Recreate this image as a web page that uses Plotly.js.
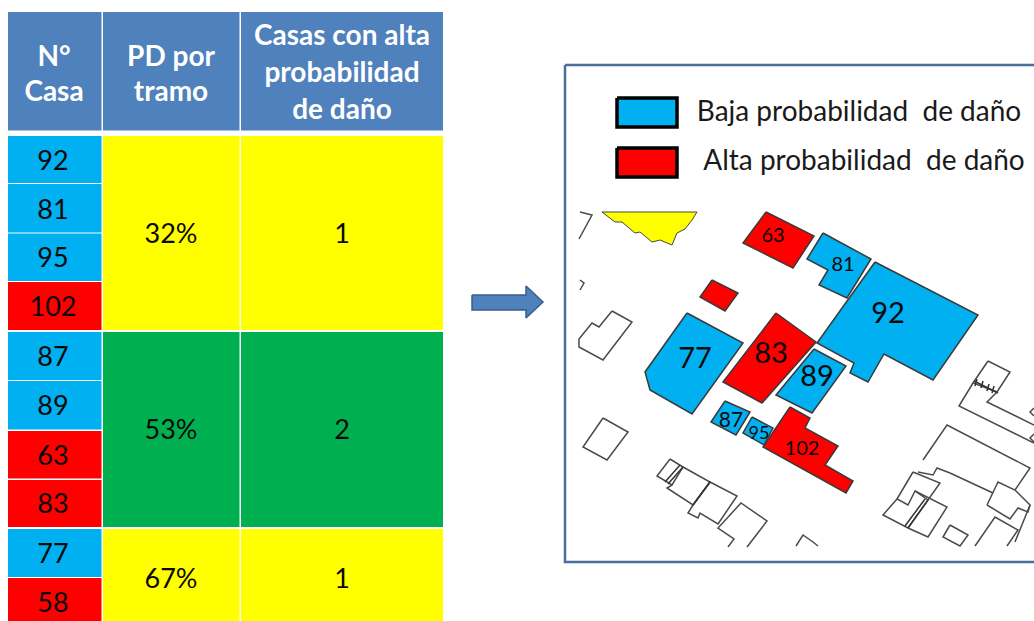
<!DOCTYPE html>
<html><head><meta charset="utf-8">
<script src="https://cdn.plot.ly/plotly-3.0.1.min.js"></script>
<style>html,body{margin:0;padding:0;background:#fff;overflow:hidden}</style></head>
<body><div id="chart" style="width:1034px;height:621px"></div>
<script>
// ---------- table values ----------
const headers = ["N°<br>Casa", "PD por<br>tramo", "Casas con alta<br>probabilidad<br>de daño"];
const caseNumbers = ["92","81","95","102","87","89","63","83","77","58"];
const caseRisk = ["baja","baja","baja","alta","baja","baja","alta","alta","baja","alta"];
const tramoPd = ["32%","53%","67%"];
const tramoCount = ["1","2","1"];
const tramoColor = ["#FFFF00","#00B050","#FFFF00"];
const legendLabels = ["Baja probabilidad  de daño","Alta probabilidad  de daño"];
// ---------- table layout (page pixels) ----------
const colX = [[8,101.5],[103,239.5],[241,443]];
const headerY = [12,130.5];
const rowY = [[136,183],[184,232.5],[233.5,281],[282,330],[332,380],[381,429.5],[431,478.5],[480,527],[529,577],[578,630]];
const tramoY = [[136,330],[332,527],[529,630]];
const tramoTextY = [236,432,581];
const caseTextY = [163,212,260,309,359,408,458,506,556,605];
// ---------- map geometry (page pixels) ----------
const riskColor = {baja:"#00B0F0", alta:"#FF0000"};
const blueHouses = [
 {n:"81",s:20,t:[843,266],p:[[823,233],[871,259],[847,298],[819,285],[828,270],[807,259]]},
 {n:"92",s:29,t:[888,316],p:[[875,262],[978,315],[933,380],[884,354],[868,382],[850,373],[854,363],[817,343]]},
 {n:"89",s:29,t:[817,379],p:[[814,349],[846,366],[812,413],[776,395]]},
 {n:"77",s:29,t:[695,361],p:[[687,313],[743,343],[692,414],[650,390],[645,372],[655,358]]},
 {n:"87",s:21,t:[731,422],p:[[725,401],[750,412],[736,435],[711,422]]},
 {n:"95",s:18,t:[759,434],p:[[752,417],[773,428],[764,445],[743,433]]}
];
const redHouses = [
 {n:"63",s:20,t:[773,237],p:[[766,212],[814,236],[793,268],[743,243]]},
 {n:"83",s:29,t:[771,356],p:[[776,313],[816,342],[762,403],[723,382]]},
 {n:"102",s:20,t:[802,450],p:[[790,407],[810,418],[805,428],[838,446],[825,465],[853,481],[846,493],[763,447]]},
 {n:"",s:0,t:[0,0],p:[[712,280],[738,293],[725,311],[700,297]]}
];
const yellowBlock = [[602,212],[615,222],[622,222],[635,233],[640,232],[652,242],[660,240],[672,245],[677,233],[685,229],[692,220],[697,212]];
const outlines = [
 [[580,212],[592,215],[579,239]],
 [[580,280],[584,283],[580,290]],
 [[612,311],[632,322],[603,360],[579,347],[579,339],[592,323],[599,327],[612,311]],
 [[603,418],[628,432],[607,460],[583,447],[603,418]],
 [[670,459],[683,467],[672,485],[657,476],[670,459]],
 [[683,467],[710,482],[693,505],[667,488],[672,485]],
 [[710,482],[737,496],[718,524],[700,513],[698,518],[688,513],[693,505],[710,482]],
 [[747,547],[767,521],[741,503],[718,528],[734,539],[728,547]],
 [[796,546],[803,535],[813,542],[818,546]],
 [[988,361],[1010,372],[997,392],[973,383],[988,361]],
 [[973,383],[959,406],[1034,443]],
 [[997,392],[987,402],[1034,425]],
 [[923,460],[947,425],[1030,468],[1015,490]],
 [[913,472],[940,483],[928,500],[915,491],[908,505],[897,499],[913,472]],
 [[950,473],[937,468],[933,475],[918,472]],
 [[950,473],[993,493]],
 [[897,499],[883,515],[908,528],[928,500]],
 [[915,491],[947,507],[928,537],[908,528]],
 [[950,525],[968,535],[960,546],[943,537],[950,525]],
 [[987,505],[998,482],[1015,490],[1030,505],[1028,512],[1018,508],[1010,519],[987,505]],
 [[975,546],[995,517],[1018,530],[1007,546]],
 [[1015,542],[1022,525],[1030,505]],
 [[1034,408],[1030,412],[1034,416]],
 [[1034,434],[1030,438],[1034,442]]
];
const hatches = [
 [[974,381],[998,393]],[[977,379],[975,386]],[[983,381],[981,388]],[[989,384],[987,391]],[[994,386],[992,393]],
 [[683,467],[668,484]],[[680,465],[665,482]],[[710,482],[693,505]],[[928,500],[908,528]],[[925,499],[905,526]]
];
const mapFrame = [[565,65],[1040,65],[1040,562],[565,562],[565,65]];
const arrow = [[472,295],[526,295],[526,286],[543,302],[526,318],[526,310],[472,310],[472,295]];
const legendBoxes = [[[617,98],[677,98],[677,127],[617,127],[617,98]],[[617,148],[677,148],[677,177],[617,177],[617,148]]];
const legendColors = ["#00B0F0","#FF0000"];
const legendText = [[859,114],[864,163]];

// ---------- helpers ----------
const traces = [];
const rect = (x,y)=>[[x[0],y[0]],[x[1],y[0]],[x[1],y[1]],[x[0],y[1]],[x[0],y[0]]];
function poly(pts, fill, lineColor, width){
  const closed = fill ? pts.concat([pts[0]]) : pts;
  traces.push({type:"scatter",mode:lineColor?"lines":"none",x:closed.map(p=>p[0]),y:closed.map(p=>p[1]),
    fill:fill?"toself":"none",fillcolor:fill||undefined,
    line:{color:lineColor||"rgba(0,0,0,0)",width:width||1},hoverinfo:"skip",showlegend:false});
}
function label(x,y,text,size,color,bold){
  traces.push({type:"scatter",mode:"text",x:[x],y:[y],text:[bold?"<b>"+text+"</b>":text],textposition:"middle center",
    textfont:{family:"Lato, 'Open Sans', sans-serif",size:size,color:color},hoverinfo:"skip",showlegend:false});
}
// table
headers.forEach((h,i)=>poly(rect(colX[i],headerY),"#4F81BD"));
caseNumbers.forEach((n,i)=>poly(rect(colX[0],rowY[i]),riskColor[caseRisk[i]]));
tramoPd.forEach((t,i)=>{poly(rect(colX[1],tramoY[i]),tramoColor[i]);poly(rect(colX[2],tramoY[i]),tramoColor[i]);});
// arrow + frame
poly(arrow,"#4F81BD","#385D8A",1.5);
poly(mapFrame,null,"#4A6E9E",2.5);
// legend
legendBoxes.forEach((b,i)=>poly(b,legendColors[i],"#000000",3.5));
// map
poly(yellowBlock,"#FFFF00","#444444",1);
outlines.forEach(o=>poly(o,null,"#4a4a4a",1.5));
hatches.forEach(o=>poly(o,null,"#333333",1.5));
blueHouses.forEach(h=>poly(h.p,"#00B0F0","#3a3a3a",1.5));
redHouses.forEach(h=>poly(h.p,"#FF0000","#3a3a3a",1.5));
// texts
const hdrTextY = [[59,94],[59,94],[38,75,112]];
const hdrCenter = [54,171,342];
headers.forEach((h,i)=>h.split("<br>").forEach((line,j)=>label(hdrCenter[i],hdrTextY[i][j],line,28,"#FFFFFF",true)));
caseNumbers.forEach((n,i)=>label(53,caseTextY[i],n,27,"#0a0a0a"));
tramoPd.forEach((t,i)=>{label(171,tramoTextY[i],t,27,"#0a0a0a");label(342,tramoTextY[i],tramoCount[i],27,"#0a0a0a");});
legendLabels.forEach((l,i)=>label(legendText[i][0],legendText[i][1],l.replace("  ","\u00A0\u00A0"),28,"#1a1a1a"));
blueHouses.concat(redHouses).forEach(h=>{if(h.n)label(h.t[0],h.t[1],h.n,h.s,"#0a0a0a");});

Plotly.newPlot("chart",traces,{
  width:1034,height:621,margin:{l:0,r:0,t:0,b:0},showlegend:false,
  paper_bgcolor:"#fff",plot_bgcolor:"#fff",
  xaxis:{range:[0,1034],visible:false,fixedrange:true},
  yaxis:{range:[621,0],visible:false,fixedrange:true}
},{displayModeBar:false,staticPlot:true});
</script></body></html>
